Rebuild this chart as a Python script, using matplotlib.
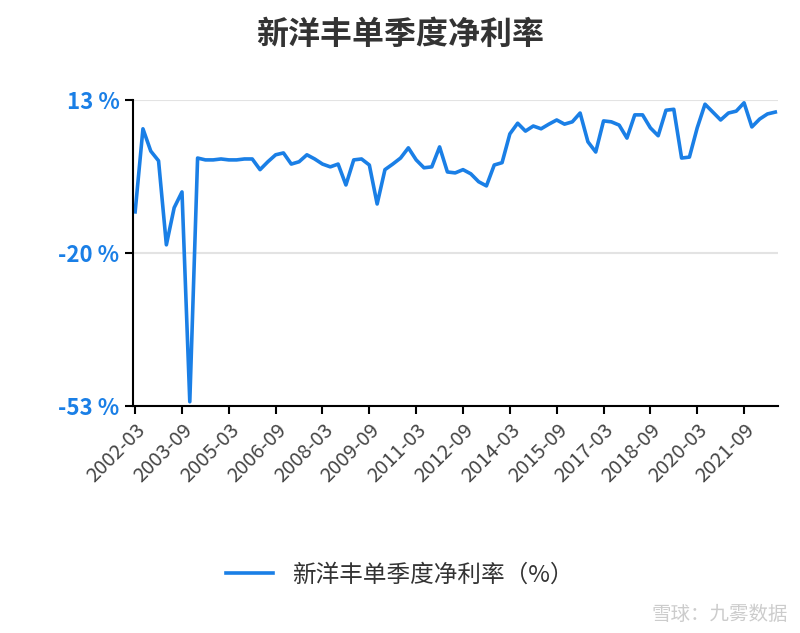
import matplotlib
matplotlib.use("Agg")
import matplotlib.pyplot as plt
import pandas as pd

plt.rcParams['font.family'] = ['Noto Sans CJK SC', 'DejaVu Sans']

values = [-11.1, 6.8, 2.0, -0.1, -18.2, -10.2, -6.8, -52.0, 0.5, 0.1, 0.1, 0.3, 0.1, 0.1, 0.3, 0.3,
          -2.0, -0.3, 1.2, 1.6, -0.8, -0.3, 1.2, 0.3, -0.8, -1.4, -0.8, -5.3, 0.1, 0.3, -1.0, -9.4,
          -2.0, -0.8, 0.5, 2.7, 0.1, -1.6, -1.4, 2.9, -2.5, -2.7, -2.0, -2.9, -4.6, -5.5, -1.0, -0.5,
          5.7, 8.0, 6.3, 7.4, 6.8, 7.8, 8.7, 7.8, 8.3, 10.2, 4.0, 1.8, 8.5, 8.3, 7.6, 4.8,
          9.8, 9.8, 7.0, 5.3, 10.8, 11.0, 0.5, 0.7, 7.0, 12.1, 10.4, 8.7, 10.2, 10.6, 12.4, 7.2,
          8.9, 10.0, 10.4]
periods = pd.period_range('2002Q1', periods=len(values), freq='Q')
labels = [f"{p.year}-{p.quarter*3:02d}" for p in periods]
yticks = [13, -20, -53]
title = "新洋丰单季度净利率"
series_name = "新洋丰单季度净利率（%）"

blue = "#1a7fe6"
fig = plt.figure(figsize=(8, 6.33), dpi=100)
ax = fig.add_axes([0.166, 0.358, 0.807, 0.484])
x = list(range(len(values)))
ax.plot(x, values, color=blue, lw=2.6, label=series_name)
ax.set_ylim(-53, 13)
ax.set_xlim(-0.3, len(values) - 0.6)
ax.set_yticks(yticks)
ax.set_yticklabels([f"{v} %" for v in yticks], color=blue, fontsize=16, fontweight='bold')
ax.set_xticks(x[::6])
ax.set_xticklabels(labels[::6], rotation=45, ha='right', rotation_mode='anchor',
                   fontsize=14.5, color='#444444')
for v in yticks:
    ax.axhline(v, color='#e3e3e3', lw=1.5, zorder=0)
for s in ['top', 'right']:
    ax.spines[s].set_visible(False)
for s in ['left', 'bottom']:
    ax.spines[s].set_linewidth(1.5)
ax.tick_params(axis='both', length=6, width=1.5)
fig.suptitle(title, fontsize=23, fontweight='bold', color='#333333', y=0.97)
fig.legend(loc='lower center', bbox_to_anchor=(0.5, 0.04), frameon=False,
           prop={'size': 17, 'weight': 'medium'}, handlelength=2.0, labelcolor='#333333')
fig.text(0.985, 0.02, "雪球：九雾数据", ha='right', fontsize=14, color='#cccccc')
fig.savefig("out.png", dpi=100)
